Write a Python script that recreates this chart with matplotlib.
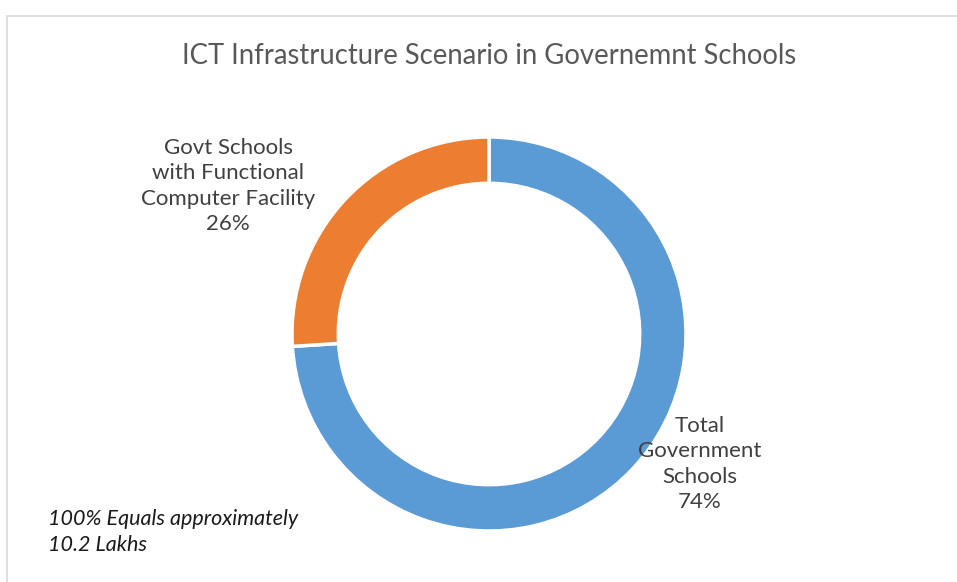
import matplotlib.pyplot as plt
from matplotlib.patches import Rectangle

plt.rcParams['font.family'] = ['Lato', 'DejaVu Sans']

# data
categories = ['Total\nGovernment\nSchools', 'Govt Schools\nwith Functional\nComputer Facility']
shares = [74, 26]
colors = ['#5B9BD5', '#ED7D31']
title = 'ICT Infrastructure Scenario in Governemnt Schools'
note = '100% Equals approximately\n10.2 Lakhs'

W, H = 957, 582
fig = plt.figure(figsize=(W / 100, H / 100), dpi=100)

# chart frame (cropped on right and bottom)
fig.patches.append(Rectangle((7 / W, -0.1), 1.2, (H - 16) / H + 0.1,
                             transform=fig.transFigure, fill=False,
                             edgecolor='#D9D9D9', lw=1.2))

# donut axes: centre (489, 334), radius ~197 px
r = 197
cx, cy = 489, 334
ax = fig.add_axes([(cx - r) / W, (H - cy - r) / H, 2 * r / W, 2 * r / H])
ax.pie(shares, colors=colors, startangle=90, counterclock=False,
       wedgeprops=dict(width=0.235, edgecolor='white', linewidth=2.5),
       radius=1.0)
ax.set_xlim(-1, 1)
ax.set_ylim(-1, 1)
ax.set_aspect('equal')
ax.axis('off')

fig.text(489 / W, 1 - 56 / H, title, ha='center', va='center',
         fontsize=19.8, color='#595959')

fig.text(228 / W, 1 - 186 / H, categories[1] + '\n%d%%' % shares[1],
         ha='center', va='center', fontsize=16, color='#404040',
         linespacing=1.32)
fig.text(700 / W, 1 - 464 / H, categories[0] + '\n%d%%' % shares[0],
         ha='center', va='center', fontsize=16, color='#404040',
         linespacing=1.32)

fig.text(48 / W, 1 - 532 / H, note, ha='left', va='center',
         fontsize=15.5, style='italic', color='#1a1a1a', linespacing=1.38)

fig.savefig('out.png', dpi=100)
